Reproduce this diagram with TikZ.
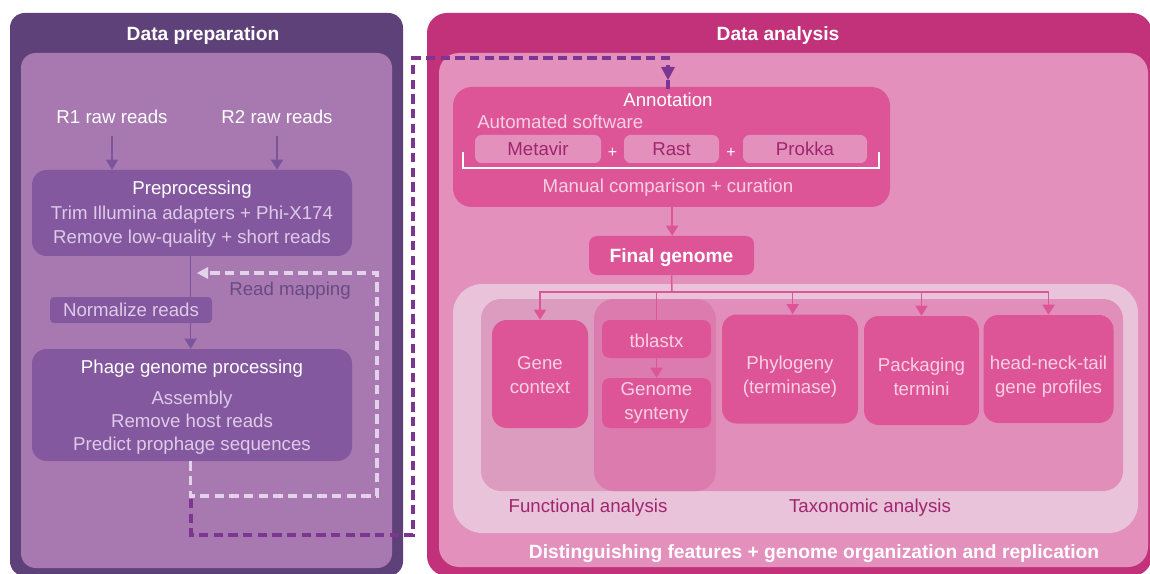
\documentclass[tikz,border=0pt]{standalone}
\usepackage{fontspec}
\setmainfont{Liberation Sans}
\usetikzlibrary{arrows.meta}
\definecolor{dpurple}{HTML}{5F4179}
\definecolor{lpurple}{HTML}{A779B0}
\definecolor{bpurple}{HTML}{84589F}
\definecolor{apurple}{HTML}{7B559A}
\definecolor{lavtxt}{HTML}{DECBE8}
\definecolor{dashlight}{HTML}{E2D3EA}
\definecolor{dashdark}{HTML}{7D3592}
\definecolor{rmtxt}{HTML}{6A4A84}
\definecolor{magenta}{HTML}{C1327A}
\definecolor{pinkin}{HTML}{E391BC}
\definecolor{pbox}{HTML}{DD5597}
\definecolor{pinktxt}{HTML}{F7D0E4}
\definecolor{darkmag}{HTML}{A0256E}
\definecolor{lregion}{HTML}{E8C3D9}
\definecolor{funcol}{HTML}{DC9CC0}
\definecolor{taxcol}{HTML}{E18FBA}
\definecolor{bothcol}{HTML}{DC7BAE}
\begin{document}
\begin{tikzpicture}[x=0.75pt,y=-0.75pt,
  every node/.style={font=\fontsize{14}{18.4}\selectfont, inner sep=0pt},
  title/.style={font=\fontsize{14.4}{17}\selectfont\bfseries, text=white},
  lbox/.style={fill=bpurple, rounded corners=11pt, align=center, text=lavtxt},
  rbox/.style={fill=pbox, rounded corners=11pt, align=center, text=pinktxt, font=\fontsize{14}{18}\selectfont},
  rtxt/.style={align=center, text=pinktxt, font=\fontsize{14}{18}\selectfont},
  sbox/.style={fill=pinkin, rounded corners=5pt, text=darkmag},
  larr/.style={draw=apurple, line width=1.1pt, -{Triangle[width=9pt,length=7.5pt]}},
  rarr/.style={draw=pbox, line width=1.1pt, -{Triangle[width=9pt,length=7.5pt]}},
  rline/.style={draw=pbox, line width=1.1pt},
  ldash/.style={draw=dashlight, line width=2.5pt, dash pattern=on 7pt off 4pt},
  ddash/.style={draw=dashdark, line width=2.5pt, dash pattern=on 7pt off 4pt},
]
\useasboundingbox (0,0) rectangle (1150,574);
\clip (0,0) rectangle (1150,574);
\fill[white] (0,0) rectangle (1150,574);

% ---------- left panel ----------
\fill[dpurple, rounded corners=11pt] (10,13) rectangle (403,576);
\fill[lpurple, rounded corners=11pt] (21,53) rectangle (392,568);
\node[title] (tprep) at (203,36) {Data preparation};

\node[text=white] (r1) at (112,117) {R1 raw reads};
\node[text=white] (r2) at (277,117) {R2 raw reads};

\node[lbox, minimum width=240pt, minimum height=64.5pt] (pre) at (192,213) {};
\node[align=center, text=lavtxt] (pretxt) at (192,214.5)
  {\textcolor{white}{Preprocessing}\\Trim Illumina adapters + Phi-X174\\Remove low-quality + short reads};
\node[lbox, minimum width=240pt, minimum height=84pt] (phage) at (192,405) {};
\node[align=center, text=lavtxt, font=\fontsize{14}{17.4}\selectfont] (phagetxt) at (192,407)
  {\textcolor{white}{Phage genome processing}\\[6pt]Assembly\\Remove host reads\\Predict prophage sequences};

\draw[larr] ([yshift=-9pt]r1.south) -- (r1 |- pre.north);
\draw[larr] ([yshift=-9pt]r2.south) -- (r2 |- pre.north);
\draw[larr] ([xshift=-1pt]pre.south) -- ([xshift=-1pt]phage.north);

\node[lbox, rounded corners=3pt, minimum width=121.5pt, minimum height=19.5pt] (norm) at (131,310) {Normalize reads};

% read mapping loop (light)
\coordinate (rmA) at (377,496);
\coordinate (rmB) at (377,273);
\coordinate (rmEnd) at (197,273);
\draw[ldash] ([xshift=-1pt]phage.south) -- ([xshift=-1pt]phage.south |- rmA) -- (rmA) -- (rmB) -- ([xshift=8pt]rmEnd);
\fill[dashlight] (rmEnd) -- ++(11,-6) -- ++(0,12) -- cycle;
\node[text=rmtxt] (rmlab) at (290,291) {Read mapping};

% ---------- right panel ----------
\fill[magenta, rounded corners=15pt] (427,13) rectangle (1152,576);
\fill[pinkin, rounded corners=15pt] (439,53) rectangle (1148,567);
\node[title] (tana) at (778,36) {Data analysis};

% annotation
\node[fill=pbox, rounded corners=14pt, minimum width=327.75pt, minimum height=90pt] (ann) at (671.5,147) {};

% dark dashed route to annotation
\coordinate (dStart) at (191,499);
\coordinate (dB) at (191,535);
\coordinate (dC) at (413,535);
\coordinate (dD) at (413,58);
\coordinate (dE) at (668,58);
\draw[ddash] (dStart) -- (dB) -- (dC) -- (dD) -- (dE) -- ([yshift=-4pt]dE |- ann.north);
\fill[dashdark] (661,67) -- (675,67) -- (668,80) -- cycle;

\node[text=white] (anntitle) at (668,100) {Annotation};
\node[text=pinktxt, anchor=west] (auto) at (477,122) {Automated software};
\node[sbox, minimum width=94.5pt, minimum height=21pt] (metavir) at (538,149) {Metavir};
\node[sbox, minimum width=71.25pt, minimum height=21pt] (rast) at (671.5,149) {Rast};
\node[sbox, minimum width=93pt, minimum height=21pt] (prokka) at (805,149) {Prokka};
\node[text=white, font=\fontsize{12}{14}\selectfont] (plus1) at (612.5,153) {+};
\node[text=white, font=\fontsize{12}{14}\selectfont] (plus2) at (731,153) {+};
\draw[white, line width=1.6pt] (463,152) -- (463,168) -- (879,168) -- (879,152);
\node[text=pinktxt] (manual) at (668,188) {Manual comparison + curation};

% final genome
\node[fill=pbox, rounded corners=6pt, minimum width=123.75pt, minimum height=29.25pt] (fg) at (671.5,255.5) {};
\node[title] (fgtxt) at (671.5,257.5) {Final genome};
\draw[rarr] ([xshift=0.5pt]ann.south) -- ([xshift=0.5pt]fg.north);

% regions
\fill[lregion, rounded corners=22pt] (453,284) rectangle (1138,533);
\fill[funcol, rounded corners=15pt] (481,299) rectangle (716,491);
\fill[taxcol, rounded corners=15pt] (594,299) rectangle (1123,491);
\fill[bothcol, rounded corners=15pt] (594,299) rectangle (716,491);
\node[text=darkmag] (funlab) at (588,508) {Functional analysis};
\node[text=darkmag] (taxlab) at (870,508) {Taxonomic analysis};

% analysis boxes
\node[rbox, minimum width=72pt, minimum height=81pt] (gc) at (540,374) {};
\node[rtxt] (gctxt) at (540,375.5) {Gene\\context};
\node[rbox, rounded corners=6pt, minimum width=81.75pt, minimum height=28.5pt] (tb) at (656.5,339) {};
\node[rtxt] (tbtxt) at (656.5,341) {tblastx};
\node[rbox, rounded corners=6pt, minimum width=81.75pt, minimum height=37.5pt] (gs) at (656.5,403) {};
\node[rtxt] (gstxt) at (656.5,403) {Genome\\synteny};
\node[rbox, minimum width=102pt, minimum height=81.75pt] (phy) at (790,369) {};
\node[rtxt] (phytxt) at (790,377) {Phylogeny\\(terminase)};
\node[rbox, minimum width=86.25pt, minimum height=81.75pt] (pack) at (921.5,370.5) {};
\node[rtxt] (packtxt) at (921.5,377) {Packaging\\termini};
\node[rbox, minimum width=97.5pt, minimum height=81pt] (hnt) at (1048.5,369) {};
\node[rtxt] (hnttxt) at (1048.5,377) {head-neck-tail\\gene profiles};

\draw[rarr] (tb.south) -- (gs.north);
\coordinate (bus) at (672,292);
\draw[rline] (fg.south) -- (bus);
\draw[rarr] (bus) -| (gc.north);
\draw[rline] (bus) -| (tb.north);
\draw[rarr] (bus) -| ([xshift=2pt]phy.north);
\draw[rarr] (bus) -| (pack.north);
\draw[rarr] (bus) -| (hnt.north);

\node[title] (dist) at (814,554) {Distinguishing features + genome organization and replication};
\end{tikzpicture}
\end{document}
